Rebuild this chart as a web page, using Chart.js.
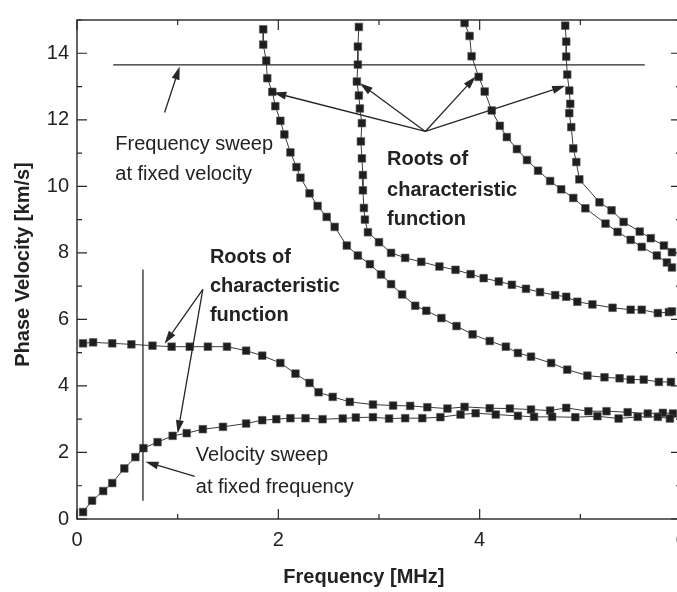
<!DOCTYPE html>
<html>
<head>
<meta charset="utf-8">
<script src="https://cdn.jsdelivr.net/npm/chart.js@4.4.1/dist/chart.umd.min.js"></script>
<style>
  html, body { margin: 0; padding: 0; background: #fff; overflow: hidden; }
  #wrap { width: 677px; height: 592px; overflow: hidden; }
  canvas { display: block; }
</style>
</head>
<body>
<div id="wrap"><canvas id="dispersion" width="700" height="592"></canvas></div>
<script>
// Dispersion curves: roots of the characteristic function, frequency [MHz] vs phase velocity [km/s]
const freqA = [0.06, 0.15, 0.26, 0.35, 0.47, 0.58, 0.66, 0.80, 0.95, 1.09, 1.25, 1.45, 1.68, 1.84, 1.98, 2.12, 2.27, 2.44, 2.64, 2.77, 2.94, 3.10, 3.26, 3.43, 3.61, 3.81, 3.96, 4.16, 4.38, 4.54, 4.72, 4.95, 5.17, 5.38, 5.57, 5.77, 5.89];
const velA  = [0.21, 0.55, 0.84, 1.08, 1.52, 1.86, 2.13, 2.31, 2.50, 2.58, 2.70, 2.77, 2.87, 2.97, 3.00, 3.03, 3.03, 3.00, 3.02, 3.05, 3.06, 3.02, 3.03, 3.03, 3.06, 3.14, 3.18, 3.14, 3.10, 3.07, 3.07, 3.06, 3.09, 3.02, 3.07, 3.07, 3.02];

const freqB = [0.06, 0.16, 0.35, 0.54, 0.75, 0.94, 1.12, 1.30, 1.49, 1.68, 1.84, 2.02, 2.17, 2.31, 2.40, 2.54, 2.71, 2.94, 3.14, 3.31, 3.48, 3.68, 3.85, 4.10, 4.30, 4.51, 4.70, 4.86, 5.08, 5.26, 5.47, 5.67, 5.82, 5.92];
const velB  = [5.28, 5.31, 5.28, 5.25, 5.21, 5.18, 5.18, 5.18, 5.18, 5.06, 4.91, 4.69, 4.37, 4.09, 3.81, 3.67, 3.52, 3.44, 3.41, 3.40, 3.36, 3.32, 3.37, 3.33, 3.32, 3.29, 3.26, 3.34, 3.24, 3.24, 3.21, 3.17, 3.19, 3.17];

const freqC = [1.85, 1.85, 1.88, 1.89, 1.94, 1.97, 2.02, 2.06, 2.12, 2.18, 2.22, 2.31, 2.39, 2.48, 2.56, 2.68, 2.79, 2.91, 3.02, 3.12, 3.23, 3.36, 3.47, 3.62, 3.77, 3.93, 4.10, 4.26, 4.38, 4.51, 4.71, 4.87, 5.07, 5.24, 5.39, 5.50, 5.63, 5.78, 5.90];
const velC  = [14.72, 14.26, 13.78, 13.25, 12.84, 12.41, 11.97, 11.56, 11.02, 10.58, 10.26, 9.79, 9.41, 9.08, 8.78, 8.22, 7.92, 7.66, 7.35, 7.06, 6.75, 6.41, 6.26, 6.04, 5.80, 5.55, 5.35, 5.18, 4.99, 4.88, 4.69, 4.49, 4.31, 4.26, 4.23, 4.19, 4.19, 4.12, 4.12];

const freqD = [2.80, 2.79, 2.79, 2.78, 2.80, 2.81, 2.83, 2.82, 2.83, 2.84, 2.84, 2.85, 2.86, 2.89, 3.00, 3.12, 3.26, 3.42, 3.60, 3.76, 3.91, 4.04, 4.19, 4.32, 4.46, 4.60, 4.75, 4.86, 4.97, 5.12, 5.32, 5.50, 5.61, 5.77, 5.88, 5.91];
const velD  = [14.79, 14.20, 13.66, 13.15, 12.73, 12.34, 11.90, 11.35, 10.84, 10.34, 9.88, 9.35, 9.00, 8.62, 8.32, 8.00, 7.85, 7.73, 7.59, 7.49, 7.36, 7.24, 7.14, 7.04, 6.92, 6.82, 6.73, 6.68, 6.53, 6.45, 6.35, 6.29, 6.29, 6.19, 6.22, 6.24];

const freqE = [3.85, 3.90, 3.92, 3.99, 4.05, 4.12, 4.20, 4.27, 4.37, 4.47, 4.58, 4.70, 4.81, 4.93, 5.05, 5.25, 5.37, 5.50, 5.61, 5.76, 5.86, 5.91];
const velE  = [14.91, 14.52, 13.91, 13.29, 12.85, 12.28, 11.82, 11.48, 11.12, 10.79, 10.47, 10.16, 9.91, 9.65, 9.34, 8.88, 8.63, 8.39, 8.18, 7.92, 7.71, 7.56];

const freqF = [4.85, 4.86, 4.86, 4.87, 4.89, 4.90, 4.89, 4.91, 4.93, 4.96, 4.99, 5.19, 5.31, 5.43, 5.59, 5.70, 5.83, 5.91];
const velF  = [14.83, 14.35, 13.90, 13.36, 12.88, 12.48, 12.20, 11.78, 11.14, 10.73, 10.21, 9.52, 9.28, 8.93, 8.64, 8.44, 8.22, 8.02];

// sweep lines: fixed velocity (horizontal) and fixed frequency (vertical)
const sweepVelocity = 13.65;
const sweepVelocityRange = [0.36, 5.64];
const sweepFrequency = 0.655;
const sweepFrequencyRange = [0.55, 7.5];

const xTicks = [0, 2, 4, 6];
const yTicks = [0, 2, 4, 6, 8, 10, 12, 14];

const INK = '#262626';
const FONT = '"Liberation Sans", Arial, Helvetica, sans-serif';

function toPoints(xs, ys) {
  return xs.map((x, i) => ({ x: x, y: ys[i] }));
}

function curve(xs, ys) {
  return {
    data: toPoints(xs, ys),
    showLine: true,
    borderColor: '#3a3a3a',
    borderWidth: 1,
    pointStyle: 'rect',
    pointRadius: 5.4,
    pointBackgroundColor: '#1e1e1e',
    pointBorderColor: '#555',
    pointBorderWidth: 0.6,
    tension: 0
  };
}

function straight(points) {
  return {
    data: points,
    showLine: true,
    borderColor: INK,
    borderWidth: 1.3,
    pointRadius: 0
  };
}

// annotation arrows, in data units: [fromX, fromY, toX, toY]
const arrows = [
  [0.87, 12.22, 1.02, 13.60],
  [3.46, 11.65, 1.95, 12.82],
  [3.46, 11.65, 2.81, 13.10],
  [3.46, 11.65, 3.96, 13.30],
  [3.46, 11.65, 4.85, 13.02],
  [1.25, 6.90, 0.87, 5.27],
  [1.25, 6.90, 1.00, 2.58],
  [1.17, 1.28, 0.68, 1.72]
];

// text notes, in data units: [text, x, baseline y, bold]
const notes = [
  ['Frequency sweep', 0.38, 11.08, false],
  ['at fixed velocity', 0.38, 10.20, false],
  ['Roots of', 3.08, 10.65, true],
  ['characteristic', 3.08, 9.72, true],
  ['function', 3.08, 8.84, true],
  ['Roots of', 1.32, 7.70, true],
  ['characteristic', 1.32, 6.82, true],
  ['function', 1.32, 5.94, true],
  ['Velocity sweep', 1.18, 1.73, false],
  ['at fixed frequency', 1.18, 0.79, false]
];

function arrow(ctx, x1, y1, x2, y2) {
  const ang = Math.atan2(y2 - y1, x2 - x1);
  const len = 13, half = 4;
  const bx = x2 - len * Math.cos(ang), by = y2 - len * Math.sin(ang);
  ctx.beginPath();
  ctx.moveTo(x1, y1);
  ctx.lineTo(bx, by);
  ctx.stroke();
  ctx.beginPath();
  ctx.moveTo(x2, y2);
  ctx.lineTo(bx + half * Math.sin(ang), by - half * Math.cos(ang));
  ctx.lineTo(bx - half * Math.sin(ang), by + half * Math.cos(ang));
  ctx.closePath();
  ctx.fill();
}

const frameAndNotes = {
  id: 'frameAndNotes',
  afterDatasetsDraw(chart) {
    const { ctx, chartArea: a, scales: { x, y } } = chart;
    ctx.save();

    // frame with inward ticks on all four sides
    ctx.strokeStyle = INK;
    ctx.lineWidth = 1.4;
    ctx.strokeRect(a.left, a.top, a.right - a.left, a.bottom - a.top);
    ctx.lineWidth = 1.2;
    ctx.beginPath();
    x.ticks.forEach(t => {
      const px = x.getPixelForValue(t.value);
      const len = t.value % 2 === 0 ? 10 : 5;
      ctx.moveTo(px, a.bottom); ctx.lineTo(px, a.bottom - len);
      ctx.moveTo(px, a.top); ctx.lineTo(px, a.top + len);
    });
    y.ticks.forEach(t => {
      const py = y.getPixelForValue(t.value);
      const len = t.value % 2 === 0 ? 10 : 5;
      ctx.moveTo(a.left, py); ctx.lineTo(a.left + len, py);
      ctx.moveTo(a.right, py); ctx.lineTo(a.right - len, py);
    });
    ctx.stroke();

    // arrows
    ctx.fillStyle = INK;
    ctx.lineWidth = 1.3;
    arrows.forEach(([fx, fy, tx, ty]) => {
      arrow(ctx, x.getPixelForValue(fx), y.getPixelForValue(fy), x.getPixelForValue(tx), y.getPixelForValue(ty));
    });

    // text
    ctx.fillStyle = '#222';
    ctx.textAlign = 'left';
    ctx.textBaseline = 'alphabetic';
    notes.forEach(([txt, nx, ny, bold]) => {
      ctx.font = (bold ? 'bold ' : '') + '20px ' + FONT;
      ctx.fillText(txt, x.getPixelForValue(nx), y.getPixelForValue(ny));
    });

    // axis titles
    ctx.font = 'bold 20px ' + FONT;
    ctx.textAlign = 'center';
    ctx.fillText('Frequency [MHz]', x.getPixelForValue(2.85), a.bottom + 64);
    ctx.save();
    ctx.translate(29, (a.top + a.bottom) / 2 - 5);
    ctx.rotate(-Math.PI / 2);
    ctx.fillText('Phase Velocity [km/s]', 0, 0);
    ctx.restore();

    ctx.restore();
  }
};

new Chart(document.getElementById('dispersion'), {
  type: 'scatter',
  data: {
    datasets: [
      straight([{ x: sweepVelocityRange[0], y: sweepVelocity }, { x: sweepVelocityRange[1], y: sweepVelocity }]),
      straight([{ x: sweepFrequency, y: sweepFrequencyRange[0] }, { x: sweepFrequency, y: sweepFrequencyRange[1] }]),
      curve(freqA, velA),
      curve(freqB, velB),
      curve(freqC, velC),
      curve(freqD, velD),
      curve(freqE, velE),
      curve(freqF, velF)
    ]
  },
  options: {
    responsive: false,
    animation: false,
    layout: { padding: { top: 9, right: 19, left: 0, bottom: 0 } },
    plugins: {
      legend: { display: false },
      tooltip: { enabled: false }
    },
    scales: {
      x: {
        type: 'linear',
        min: 0,
        max: 6,
        grid: { display: false, drawTicks: false },
        border: { display: false },
        ticks: {
          stepSize: 1,
          autoSkip: false,
          maxRotation: 0,
          padding: 9,
          color: '#222',
          font: { family: FONT, size: 20 },
          callback: v => xTicks.includes(v) ? String(v) : ''
        },
        afterFit: s => { s.height = 73; }
      },
      y: {
        type: 'linear',
        min: 0,
        max: 15,
        grid: { display: false, drawTicks: false },
        border: { display: false },
        ticks: {
          stepSize: 1,
          autoSkip: false,
          padding: 8,
          color: '#222',
          font: { family: FONT, size: 20 },
          callback: v => yTicks.includes(v) ? String(v) : ''
        },
        afterFit: s => { s.width = 77; }
      }
    }
  },
  plugins: [frameAndNotes]
});
</script>
</body>
</html>
